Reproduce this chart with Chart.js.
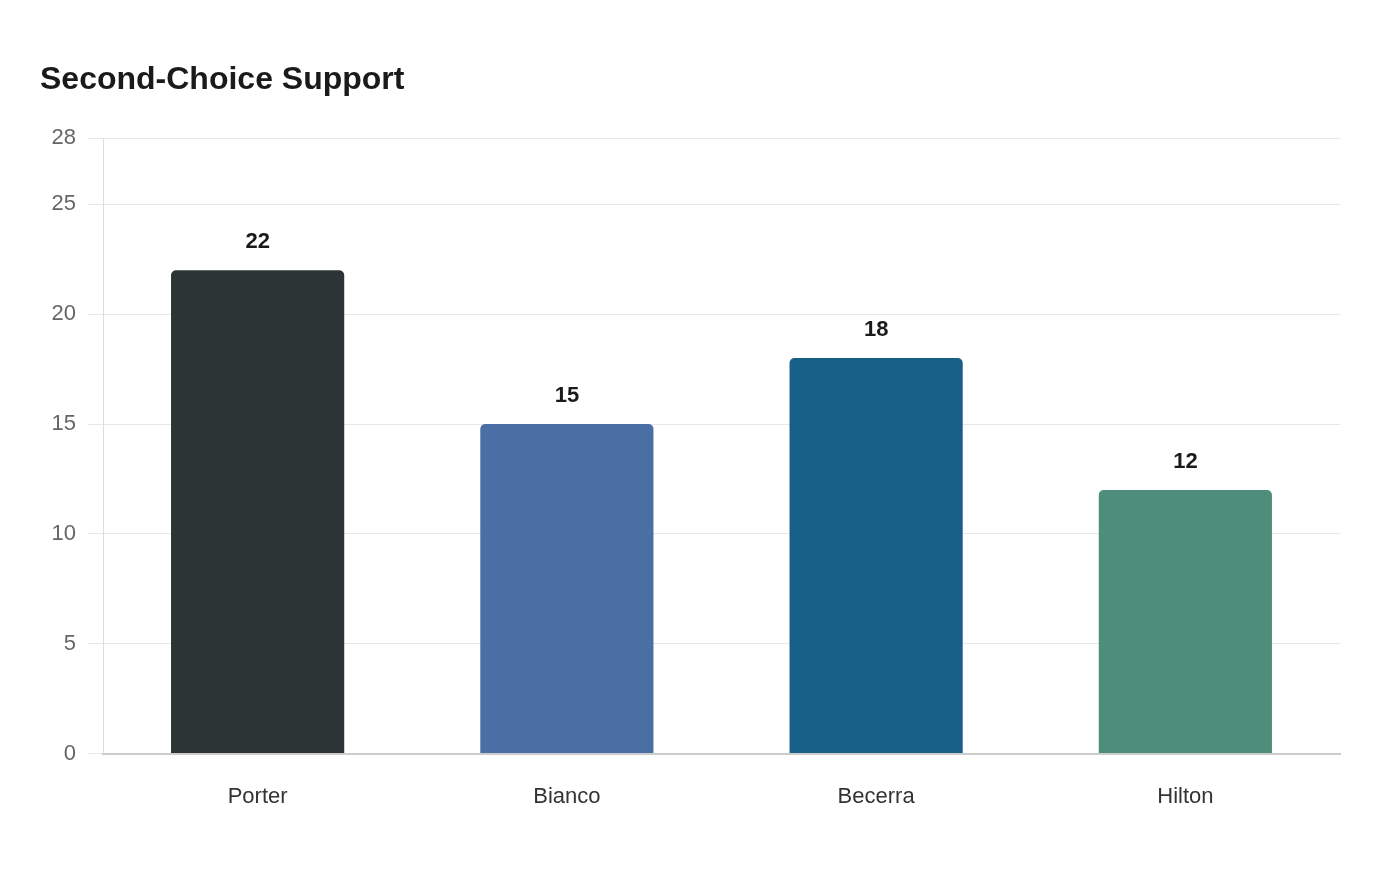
<!DOCTYPE html>
<html>
<head>
<meta charset="utf-8">
<title>Second-Choice Support</title>
<script src="https://cdn.jsdelivr.net/npm/chart.js@4/dist/chart.umd.min.js"></script>
<style>
  html, body { margin: 0; padding: 0; background: #fff; }
  #wrap { width: 1400px; height: 880px; }
</style>
</head>
<body>
<div id="wrap"><canvas id="supportChart"></canvas></div>
<script>
// data
const candidates = ['Porter', 'Bianco', 'Becerra', 'Hilton'];
const votes = [22, 15, 18, 12];
const barColors = ['#2d3436', '#4a6fa5', '#185f87', '#4e8d7a'];
const yTicks = [0, 5, 10, 15, 20, 25, 28];

const FONT = '"Liberation Sans", Arial, sans-serif';

// value labels above the bars
const valueLabels = {
    id: 'valueLabels',
    afterDatasetsDraw(chart) {
        const ctx = chart.ctx;
        const meta = chart.getDatasetMeta(0);
        ctx.save();
        ctx.font = 'bold 22px ' + FONT;
        ctx.fillStyle = '#1a1a1a';
        ctx.textAlign = 'center';
        ctx.textBaseline = 'middle';
        meta.data.forEach((bar, i) => {
            ctx.fillText(String(votes[i]), bar.x, bar.y - 28);
        });
        ctx.restore();
    }
};

function initChart() {
    const ctx = document.getElementById('supportChart').getContext('2d');
    return new Chart(ctx, {
        type: 'bar',
        data: {
            labels: candidates,
            datasets: [{
                label: 'Second-choice support',
                data: votes,
                backgroundColor: barColors,
                borderRadius: 5,
                barPercentage: 0.7,
                categoryPercentage: 0.8
            }]
        },
        options: {
            responsive: true,
            maintainAspectRatio: false,
            animation: false,
            layout: { padding: { top: 30, left: 40, right: 60, bottom: 48 } },
            plugins: {
                legend: { display: false },
                tooltip: { enabled: false },
                title: {
                    display: true,
                    text: 'Second-Choice Support',
                    align: 'start',
                    color: '#1a1a1a',
                    font: { family: FONT, size: 32, weight: 'bold' },
                    padding: { top: 31, bottom: 39 }
                }
            },
            scales: {
                y: {
                    min: 0,
                    max: 28,
                    afterBuildTicks: axis => { axis.ticks = yTicks.map(v => ({ value: v })); },
                    afterFit: axis => { axis.width = 63; },
                    grid: { color: '#e8e8e8', tickLength: 15 },
                    border: { color: '#dddddd' },
                    ticks: {
                        padding: 12,
                        color: '#666666',
                        font: { family: FONT, size: 22 }
                    }
                },
                x: {
                    grid: { display: false },
                    border: { color: '#cccccc', width: 2 },
                    ticks: {
                        padding: 22,
                        color: '#333333',
                        font: { family: FONT, size: 22 }
                    }
                }
            }
        },
        plugins: [valueLabels]
    });
}

initChart();
</script>
</body>
</html>
